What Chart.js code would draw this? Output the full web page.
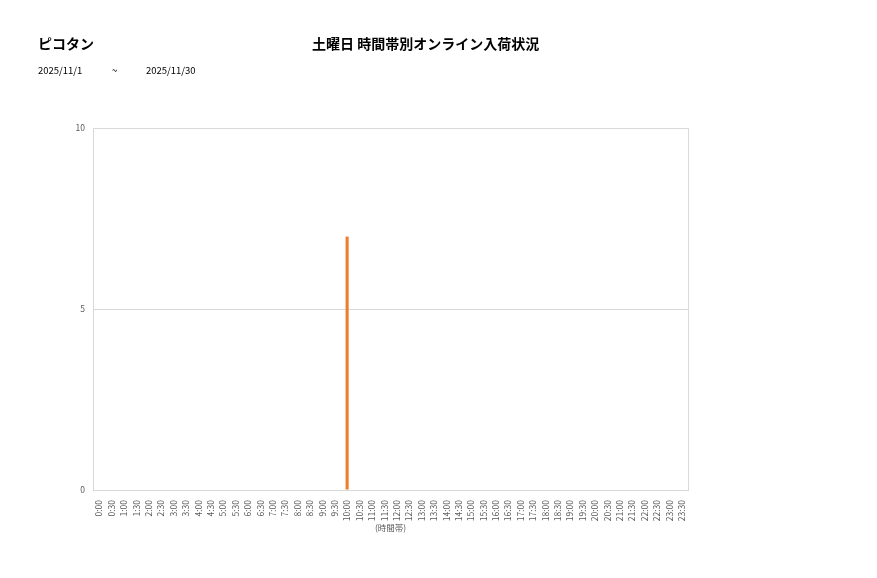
<!DOCTYPE html>
<html>
<head>
<meta charset="utf-8">
<script src="https://cdn.jsdelivr.net/npm/chart.js@4/dist/chart.umd.min.js"></script>
<style>
  html, body { margin: 0; padding: 0; background: #fff; }
  body { width: 877px; height: 578px; position: relative; overflow: hidden;
         font-family: "Noto Sans CJK JP", "Noto Sans", sans-serif; }
  #wrap { position: absolute; left: 0; top: 0; width: 877px; height: 578px; }
  .shop { position: absolute; left: 38px; top: 33px; font-size: 14px; font-weight: bold; color: #000; }
  .title { position: absolute; left: 312px; top: 33px; font-size: 14px; font-weight: bold; color: #000; }
  .date { position: absolute; top: 63px; font-size: 9.5px; color: #000; }
</style>
</head>
<body>
<div id="wrap"><canvas id="c"></canvas></div>
<div class="shop">ピコタン</div>
<div class="title">土曜日 時間帯別オンライン入荷状況</div>
<div class="date" style="left:38px">2025/11/1</div>
<div class="date" style="left:112px">~</div>
<div class="date" style="left:146px">2025/11/30</div>
<script>
// 30-minute slots for the whole day.
const slotLabels = [
  '0:00','0:30','1:00','1:30','2:00','2:30','3:00','3:30','4:00','4:30','5:00','5:30',
  '6:00','6:30','7:00','7:30','8:00','8:30','9:00','9:30','10:00','10:30','11:00','11:30',
  '12:00','12:30','13:00','13:30','14:00','14:30','15:00','15:30','16:00','16:30','17:00','17:30',
  '18:00','18:30','19:00','19:30','20:00','20:30','21:00','21:30','22:00','22:30','23:00','23:30'
];

// Arrivals per slot (only 10:00 has any).
const arrivals = [
  0,0,0,0,0,0,0,0,0,0,0,0,
  0,0,0,0,0,0,0,0,7,0,0,0,
  0,0,0,0,0,0,0,0,0,0,0,0,
  0,0,0,0,0,0,0,0,0,0,0,0
];

const yTicks = [0, 5, 10];

// draw the gray box round the plot area
const plotBox = {
  id: 'plotBox',
  afterDatasetsDraw(chart) {
    const { ctx, chartArea: a } = chart;
    ctx.save();
    ctx.strokeStyle = '#d9d9d9';
    ctx.lineWidth = 1;
    ctx.strokeRect(a.left + 0.5, a.top + 0.5, a.right - a.left, a.bottom - a.top);
    ctx.restore();
  }
};

const tickFont = { family: '"Noto Sans CJK JP", sans-serif', size: 8.5 };

new Chart(document.getElementById('c').getContext('2d'), {
  type: 'bar',
  data: {
    labels: slotLabels,
    datasets: [{
      data: arrivals,
      backgroundColor: '#ed7d31',
      barPercentage: 0.25,
      categoryPercentage: 1
    }]
  },
  options: {
    responsive: true,
    maintainAspectRatio: false,
    animation: false,
    layout: { padding: { left: 0, right: 189, top: 128, bottom: 43 } },
    plugins: { legend: { display: false }, tooltip: { enabled: false } },
    scales: {
      x: {
        offset: true,
        grid: { display: false },
        border: { color: '#d9d9d9' },
        ticks: {
          color: '#595959', font: tickFont, autoSkip: false,
          maxRotation: 90, minRotation: 90, padding: 2
        },
        title: { display: true, text: '(時間帯)', color: '#595959', font: tickFont, padding: 2 },
        afterFit(scale) { scale.height = 45; }
      },
      y: {
        min: 0, max: 10,
        afterBuildTicks(scale) { scale.ticks = yTicks.map(v => ({ value: v })); },
        grid: { color: '#d9d9d9', drawTicks: false },
        border: { color: '#d9d9d9' },
        ticks: { color: '#595959', font: tickFont, padding: 8 },
        afterFit(scale) { scale.width = 93; }
      }
    }
  },
  plugins: [plotBox]
});
</script>
</body>
</html>
